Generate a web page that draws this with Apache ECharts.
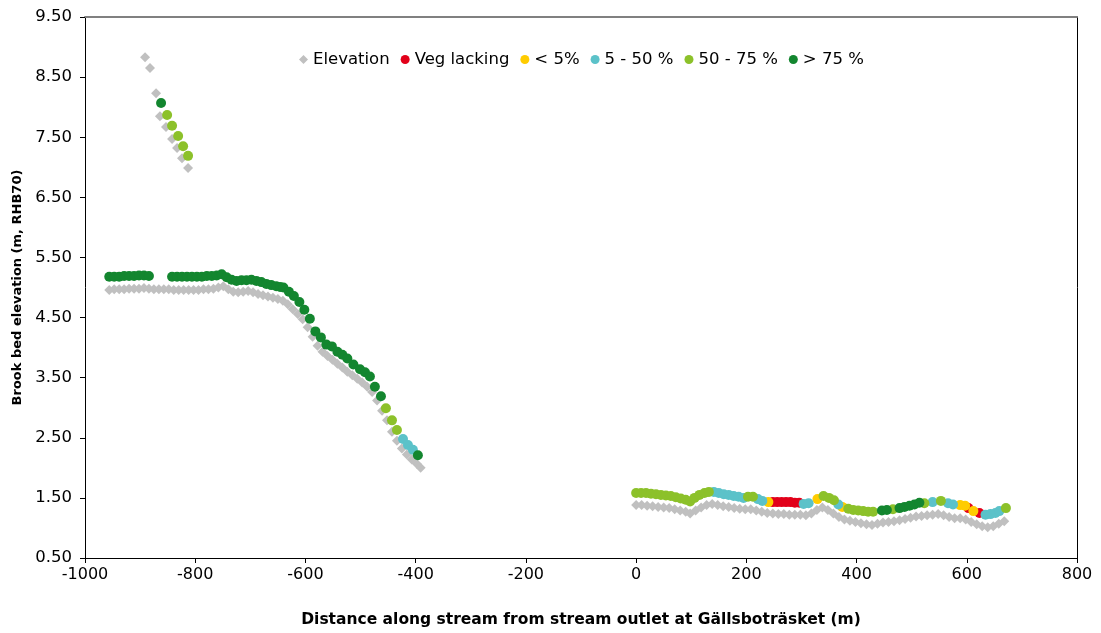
<!DOCTYPE html>
<html>
<head>
<meta charset="utf-8">
<title>Brook bed elevation</title>
<script src="https://cdn.jsdelivr.net/npm/echarts@6/dist/echarts.min.js"></script>
<style>
  html, body { margin: 0; padding: 0; background: #ffffff; }
  #chart { width: 1101px; height: 633px; }
</style>
</head>
<body>
<div id="chart"></div>
<script>
// Surveyed brook bed elevation [distance (m), elevation (m)]
const elevUpper = [
  [-891, 8.83], [-882, 8.65], [-871, 8.23], [-864, 7.85], [-853, 7.67],
  [-842, 7.47], [-833, 7.32], [-824, 7.15], [-813, 6.99]
];
const elevLeft = [
  [-956, 4.96], [-947, 4.97], [-938, 4.97], [-929, 4.97], [-920, 4.98], [-911, 4.98],
  [-902, 4.98], [-893, 4.99], [-884, 4.98], [-875, 4.97], [-866, 4.97], [-857, 4.97],
  [-848, 4.97], [-839, 4.96], [-830, 4.96], [-821, 4.96], [-812, 4.96], [-803, 4.96],
  [-794, 4.96], [-785, 4.97], [-776, 4.97], [-767, 4.98], [-758, 5.00], [-749, 5.02],
  [-740, 4.97], [-731, 4.93], [-722, 4.92], [-713, 4.93], [-704, 4.94], [-695, 4.92],
  [-686, 4.89], [-677, 4.87], [-668, 4.85], [-659, 4.83], [-650, 4.81], [-641, 4.78],
  [-632, 4.72], [-623, 4.64], [-614, 4.56], [-605, 4.47], [-596, 4.34], [-587, 4.18],
  [-578, 4.03], [-569, 3.93], [-560, 3.86], [-551, 3.80], [-542, 3.73], [-533, 3.67],
  [-524, 3.60], [-515, 3.54], [-506, 3.48], [-497, 3.42], [-488, 3.35], [-479, 3.26],
  [-470, 3.12], [-461, 2.95], [-452, 2.79], [-443, 2.60], [-434, 2.45], [-425, 2.32],
  [-416, 2.22], [-407, 2.14], [-398, 2.07], [-391, 2.00]
];
const elevRight = [
  [0, 1.38], [10, 1.38], [20, 1.37], [30, 1.36], [40, 1.35], [50, 1.34], [60, 1.33],
  [70, 1.31], [80, 1.29], [90, 1.27], [98, 1.24], [108, 1.29], [118, 1.34], [128, 1.38],
  [138, 1.40], [148, 1.38], [158, 1.36], [168, 1.35], [178, 1.33], [188, 1.32], [198, 1.31],
  [208, 1.31], [218, 1.29], [228, 1.27], [238, 1.25], [248, 1.24], [258, 1.23], [268, 1.23],
  [278, 1.22], [288, 1.22], [298, 1.22], [308, 1.21], [318, 1.24], [328, 1.30], [338, 1.34],
  [348, 1.30], [358, 1.24], [368, 1.18], [378, 1.14], [388, 1.12], [398, 1.10], [408, 1.08],
  [418, 1.06], [428, 1.05], [438, 1.07], [448, 1.09], [458, 1.10], [468, 1.11], [478, 1.13],
  [488, 1.15], [498, 1.17], [508, 1.19], [518, 1.20], [528, 1.21], [538, 1.22], [548, 1.23],
  [558, 1.21], [568, 1.18], [578, 1.16], [588, 1.16], [598, 1.14], [608, 1.10], [618, 1.06],
  [628, 1.03], [638, 1.01], [648, 1.03], [658, 1.07], [668, 1.11]
];

// Vegetation cover classes, plotted just above the bed [distance (m), elevation (m)]
const vegLacking = [
  [248, 1.43], [256, 1.43], [264, 1.43], [272, 1.43], [280, 1.43], [288, 1.42], [296, 1.42],
  [603, 1.33], [623, 1.25]
];
const under5 = [
  [240, 1.43], [329, 1.48], [374, 1.35], [588, 1.38], [597, 1.37], [612, 1.28]
];
const from5to50 = [
  [-423, 2.48], [-414, 2.38], [-405, 2.30],
  [141, 1.60], [150, 1.58], [159, 1.56], [168, 1.55], [177, 1.53], [186, 1.52], [195, 1.50],
  [221, 1.48], [229, 1.45], [304, 1.40], [313, 1.41], [367, 1.39], [538, 1.43], [566, 1.41],
  [575, 1.39], [634, 1.22], [643, 1.23], [652, 1.25], [659, 1.28]
];
const from50to75 = [
  [-851, 7.87], [-842, 7.69], [-831, 7.52], [-822, 7.35], [-813, 7.19],
  [-454, 2.99], [-443, 2.79], [-434, 2.63],
  [0, 1.58], [9, 1.58], [18, 1.58], [27, 1.57], [36, 1.56], [45, 1.55], [54, 1.54],
  [63, 1.53], [72, 1.51], [81, 1.49], [90, 1.47], [98, 1.44], [106, 1.50], [115, 1.55],
  [124, 1.58], [132, 1.60], [203, 1.52], [212, 1.52], [340, 1.53], [350, 1.50], [359, 1.46],
  [385, 1.32], [394, 1.30], [403, 1.29], [412, 1.28], [421, 1.27], [430, 1.27], [466, 1.31],
  [523, 1.41], [553, 1.45], [671, 1.33]
];
const over75 = [
  [-862, 8.07],
  [-956, 5.18], [-947, 5.18], [-938, 5.18], [-929, 5.19], [-920, 5.19], [-911, 5.19],
  [-902, 5.20], [-893, 5.20], [-884, 5.19],
  [-842, 5.18], [-833, 5.18], [-824, 5.18], [-815, 5.18], [-806, 5.18], [-797, 5.18],
  [-788, 5.18], [-779, 5.19], [-770, 5.19], [-761, 5.20], [-752, 5.22], [-743, 5.17],
  [-734, 5.13], [-725, 5.11], [-716, 5.12], [-707, 5.12], [-698, 5.13], [-689, 5.11],
  [-680, 5.09], [-671, 5.06], [-662, 5.04], [-653, 5.02], [-646, 5.01], [-640, 5.00],
  [-630, 4.93], [-621, 4.86], [-611, 4.76], [-602, 4.63], [-592, 4.48], [-582, 4.27],
  [-572, 4.17], [-562, 4.05], [-552, 4.02], [-542, 3.93], [-533, 3.88], [-524, 3.82],
  [-513, 3.72], [-501, 3.64], [-492, 3.59], [-483, 3.52], [-474, 3.35], [-463, 3.19],
  [-396, 2.21],
  [446, 1.29], [455, 1.30], [478, 1.33], [487, 1.35], [496, 1.37], [505, 1.39], [514, 1.42]
];

const xTicks = { min: -1000, max: 800, step: 200 };
const yTicks = { min: 0.5, max: 9.5, step: 1 };

const FONT = '"DejaVu Sans", "Liberation Sans", Arial, sans-serif';

const vegSeries = [
  { name: 'Veg lacking', data: vegLacking, color: '#e2001a' },
  { name: '< 5%', data: under5, color: '#ffcc00' },
  { name: '5 - 50 %', data: from5to50, color: '#5bc2c9' },
  { name: '50 - 75 %', data: from50to75, color: '#8cc12a' },
  { name: '> 75 %', data: over75, color: '#13862f' }
];

const chart = echarts.init(document.getElementById('chart'), null, { renderer: 'canvas' });

const axisLineBlack = { show: true, onZero: false, lineStyle: { color: '#000000', width: 1 } };

chart.setOption({
  animation: false,
  backgroundColor: '#ffffff',
  grid: { left: 85, right: 24, top: 17, bottom: 73, containLabel: false },
  legend: {
    top: 46,
    left: 294,
    itemWidth: 9,
    itemHeight: 9,
    itemGap: 11,
    textStyle: { fontFamily: FONT, fontSize: 16.5, color: '#000000' },
    data: [
      { name: 'Elevation', icon: 'diamond' },
      ...vegSeries.map(s => ({ name: s.name, icon: 'circle' }))
    ]
  },
  xAxis: [
    {
      type: 'value',
      min: xTicks.min, max: xTicks.max, interval: xTicks.step,
      axisLine: axisLineBlack,
      axisTick: { show: true, inside: false, length: 5, lineStyle: { color: '#000000' } },
      axisLabel: {
        fontFamily: FONT, fontSize: 16, color: '#000000', margin: 9,
        formatter: v => String(v)
      },
      splitLine: { show: false },
      name: 'Distance along stream from stream outlet at Gällsboträsket (m)',
      nameLocation: 'middle',
      nameGap: 54,
      nameTextStyle: { fontFamily: FONT, fontSize: 15.5, fontWeight: 'bold', color: '#000000' }
    },
    {
      type: 'value', position: 'top',
      min: xTicks.min, max: xTicks.max,
      axisLine: { show: true, onZero: false, lineStyle: { color: '#808080', width: 2 } },
      axisTick: { show: false }, axisLabel: { show: false }, splitLine: { show: false }
    }
  ],
  yAxis: [
    {
      type: 'value',
      min: yTicks.min, max: yTicks.max, interval: yTicks.step,
      axisLine: axisLineBlack,
      axisTick: { show: true, inside: false, length: 5, lineStyle: { color: '#000000' } },
      axisLabel: {
        fontFamily: FONT, fontSize: 16.5, color: '#000000', margin: 13,
        formatter: v => v.toFixed(2)
      },
      splitLine: { show: false },
      name: 'Brook bed elevation (m, RHB70)',
      nameLocation: 'middle',
      nameGap: 60,
      nameTextStyle: { fontFamily: FONT, fontSize: 13, fontWeight: 'bold', color: '#000000' }
    },
    {
      type: 'value', position: 'right',
      min: yTicks.min, max: yTicks.max,
      axisLine: axisLineBlack,
      axisTick: { show: false }, axisLabel: { show: false }, splitLine: { show: false }
    }
  ],
  series: [
    {
      name: 'Elevation',
      type: 'scatter',
      symbol: 'diamond',
      symbolSize: 10,
      itemStyle: { color: '#c0c0c0', opacity: 1 },
      data: [...elevUpper, ...elevLeft, ...elevRight]
    },
    ...vegSeries.map(s => ({
      name: s.name,
      type: 'scatter',
      symbol: 'circle',
      symbolSize: 10,
      itemStyle: { color: s.color, opacity: 1 },
      data: s.data
    }))
  ]
});
</script>
</body>
</html>
